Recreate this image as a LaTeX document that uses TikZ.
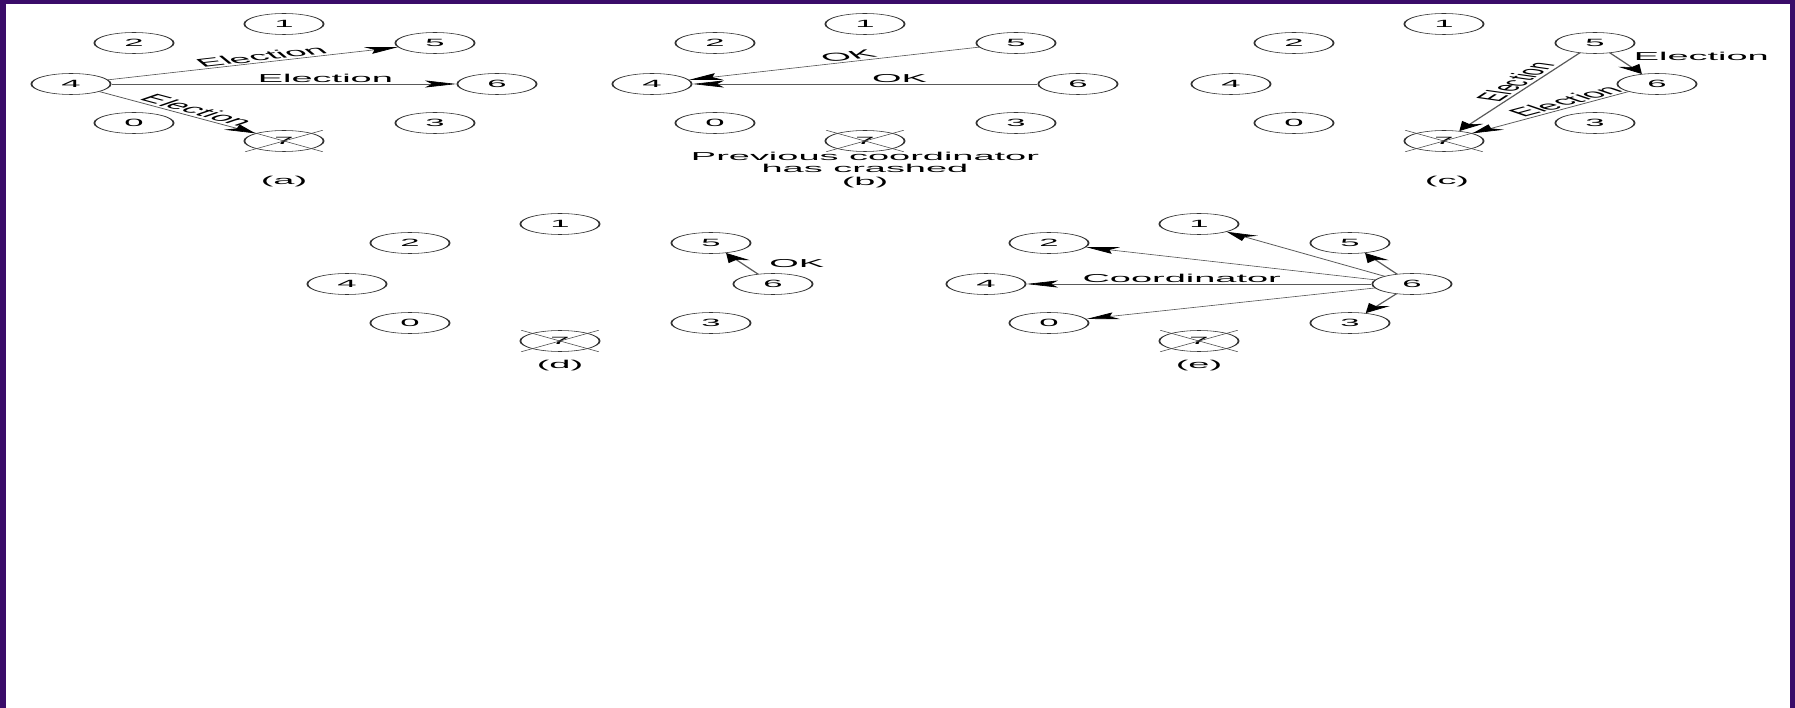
\documentclass[tikz,border=0pt]{standalone}
\usepackage{fontspec}
\setmainfont{Liberation Sans}
\usetikzlibrary{shapes.geometric,shapes.misc,arrows.meta}
\definecolor{frame}{RGB}{58,12,105}
\tikzset{
  proc/.style={ellipse, draw=black!80, line width=0.55pt, minimum width=24pt, minimum height=21pt, inner sep=0pt, font=\fontsize{10.5}{12}\selectfont},
  crossx/.style={cross out, draw=black!70, line width=0.45pt, minimum width=23pt, minimum height=21pt, inner sep=0pt},
  conn/.style={draw=black!65, line width=0.6pt, -{Stealth[length=9.5pt,width=7pt,inset=2pt,color=black]}},
  lbl/.style={font=\fontsize{11.5}{12.5}\selectfont, inner sep=1pt, text=black},
}
\newcommand\mkpanel[3]{%
  \node[proc] (#1-1) at (#2, 24+#3) {1};
  \node[proc] (#1-2) at (#2-150, 43+#3) {2};
  \node[proc] (#1-5) at (#2+151, 43+#3) {5};
  \node[proc] (#1-4) at (#2-213, 84+#3) {4};
  \node[proc] (#1-6) at (#2+213, 84+#3) {6};
  \node[proc] (#1-0) at (#2-150, 123+#3) {0};
  \node[proc] (#1-3) at (#2+151, 123+#3) {3};
  \node[proc] (#1-7) at (#2, 141+#3) {7};
  \node[crossx] (#1-7x) at (#1-7) {};
}
\begin{document}
\begin{tikzpicture}[x=1pt,y=-1pt]
\useasboundingbox (0,0) rectangle (1795,708);
\fill[frame] (0,0) rectangle (1795,708);
\fill[white] (6,4) rectangle (1790,708);
\begin{scope}[x=0.303030pt, y=-1pt, transform canvas={xscale=3.3}]
  % (a)
  \mkpanel{a}{284}{0}
  \draw[conn] (a-4) -- node[lbl, above, sloped, pos=0.55] {Election} (a-5);
  \draw[conn] (a-4) -- node[lbl, above, pos=0.62] {Election} (a-6);
  \draw[conn] (a-4) -- node[lbl, above, sloped, pos=0.55] {Election} (a-7);
  \node[lbl] (acap) at (284,182) {(a)};
  % (b)
  \mkpanel{b}{865}{0}
  \draw[conn] (b-5) -- node[lbl, above, sloped, pos=0.43] {OK} (b-4);
  \draw[conn] (b-6) -- node[lbl, above, pos=0.4] {OK} (b-4);
  \node[lbl, align=center] (bcap) at (865,170) {Previous coordinator\\has crashed\\(b)};
  % (c)
  \mkpanel{c}{1444}{0}
  \draw[conn] (c-5) -- node[lbl, pos=0.3, anchor=west, xshift=3pt, yshift=3pt] {Election} (c-6);
  \draw[conn] (c-5) -- node[lbl, above, sloped, pos=0.4] {Election} (c-7);
  \draw[conn] (c-6) -- node[lbl, above, sloped, pos=0.33] {Election} (c-7);
  \node[lbl] (ccap) at (1447,182) {(c)};
  % (d)
  \mkpanel{d}{560}{200}
  \draw[conn] (d-6) -- node[lbl, pos=0.5, anchor=west, xshift=7pt] {OK} (d-5);
  \node[lbl] (dcap) at (560,366) {(d)};
  % (e)
  \mkpanel{e}{1199}{200}
  \draw[conn] (e-6) -- (e-1);
  \draw[conn] (e-6) -- (e-2);
  \draw[conn] (e-6) -- node[lbl, above, pos=0.55] {Coordinator} (e-4);
  \draw[conn] (e-6) -- (e-0);
  \draw[conn] (e-6) -- (e-5);
  \draw[conn] (e-6) -- (e-3);
  \node[lbl] (ecap) at (1199,366) {(e)};
\end{scope}
\end{tikzpicture}
\end{document}
